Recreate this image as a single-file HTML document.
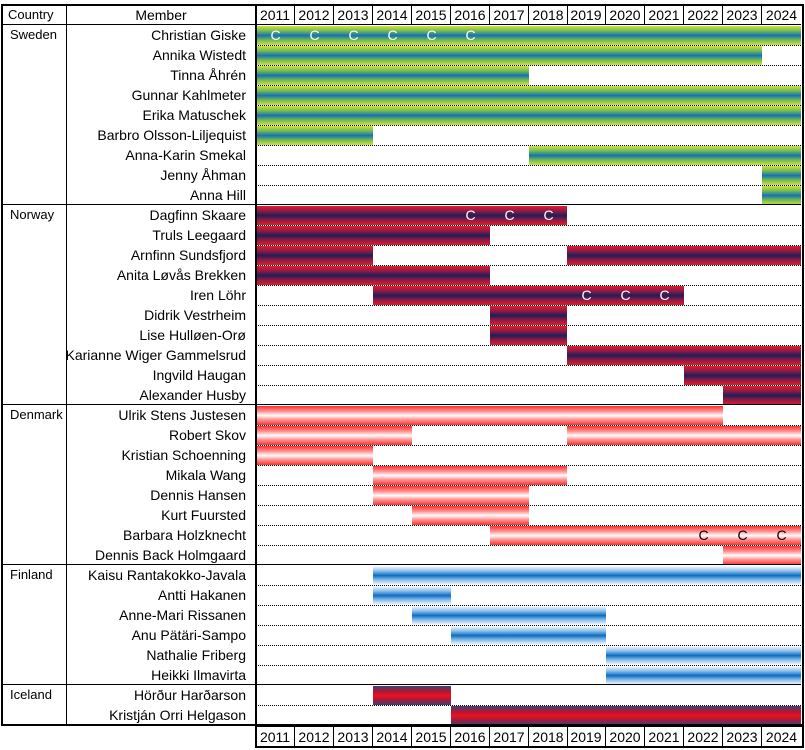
<!DOCTYPE html>
<html><head><meta charset="utf-8"><style>
body{margin:0;width:805px;height:750px;background:#fff;position:relative;overflow:hidden;font-family:"Liberation Sans",sans-serif;font-size:14px;color:#000}
div{position:absolute;box-sizing:border-box}
.b{height:19px}
.sw{background:linear-gradient(#d2e13a,#68b857 28%,#1670b8 50%,#68b857 72%,#d2e13a)}
.no{background:linear-gradient(#e21c2a,#8a1a45 28%,#1c1f5a 50%,#8a1a45 72%,#e21c2a)}
.dk{background:linear-gradient(#ff2e2e,#ff9a9a 30%,#fff 50%,#ff9a9a 70%,#ff2e2e)}
.fi{background:linear-gradient(#fff,#7ab4e4 30%,#0a6cc4 50%,#7ab4e4 70%,#fff)}
.is{background:linear-gradient(#3c4078,#b01830 30%,#ee1020 50%,#b01830 70%,#3c4078)}
.c{color:#fff;width:39px;text-align:center;height:20px;line-height:20px;font-size:14px}
.d{left:256px;width:545px;height:0;border-top:1px dotted #000}
.s{left:2px;width:799px;height:0;border-top:1.5px solid #000}
.m{left:40px;width:206px;text-align:right;height:20px;line-height:20px;white-space:nowrap}
.co{left:10px;height:20px;line-height:20px;font-size:13px}
.y{width:39px;text-align:center;height:20px;line-height:20px;border-right:1px solid #000}
</style></head><body>
<div class="b sw" style="top:26px;left:256px;width:545px"></div>
<div class="b sw" style="top:46px;left:256px;width:506px"></div>
<div class="b sw" style="top:66px;left:256px;width:273px"></div>
<div class="b sw" style="top:86px;left:256px;width:545px"></div>
<div class="b sw" style="top:106px;left:256px;width:545px"></div>
<div class="b sw" style="top:126px;left:256px;width:117px"></div>
<div class="b sw" style="top:146px;left:529px;width:272px"></div>
<div class="b sw" style="top:166px;left:762px;width:39px"></div>
<div class="b sw" style="top:186px;left:762px;width:39px"></div>

<div class="b no" style="top:206px;left:256px;width:311px"></div>
<div class="b no" style="top:226px;left:256px;width:234px"></div>
<div class="b no" style="top:246px;left:256px;width:117px"></div>
<div class="b no" style="top:246px;left:567px;width:234px"></div>
<div class="b no" style="top:266px;left:256px;width:234px"></div>
<div class="b no" style="top:286px;left:373px;width:311px"></div>
<div class="b no" style="top:306px;left:490px;width:77px"></div>
<div class="b no" style="top:326px;left:490px;width:77px"></div>
<div class="b no" style="top:346px;left:567px;width:234px"></div>
<div class="b no" style="top:366px;left:684px;width:117px"></div>
<div class="b no" style="top:386px;left:723px;width:78px"></div>

<div class="b dk" style="top:406px;left:256px;width:467px"></div>
<div class="b dk" style="top:426px;left:256px;width:156px"></div>
<div class="b dk" style="top:426px;left:567px;width:234px"></div>
<div class="b dk" style="top:446px;left:256px;width:117px"></div>
<div class="b dk" style="top:466px;left:373px;width:194px"></div>
<div class="b dk" style="top:486px;left:373px;width:156px"></div>
<div class="b dk" style="top:506px;left:412px;width:117px"></div>
<div class="b dk" style="top:526px;left:490px;width:311px"></div>
<div class="b dk" style="top:546px;left:723px;width:78px"></div>

<div class="b fi" style="top:566px;left:373px;width:428px"></div>
<div class="b fi" style="top:586px;left:373px;width:78px"></div>
<div class="b fi" style="top:606px;left:412px;width:194px"></div>
<div class="b fi" style="top:626px;left:451px;width:155px"></div>
<div class="b fi" style="top:646px;left:606px;width:195px"></div>
<div class="b fi" style="top:666px;left:606px;width:195px"></div>

<div class="b is" style="top:686px;left:373px;width:78px"></div>
<div class="b is" style="top:706px;left:451px;width:350px"></div>

<div class="c" style="top:25px;left:256px">C</div>
<div class="c" style="top:25px;left:295px">C</div>
<div class="c" style="top:25px;left:334px">C</div>
<div class="c" style="top:25px;left:373px">C</div>
<div class="c" style="top:25px;left:412px">C</div>
<div class="c" style="top:25px;left:451px">C</div>
<div class="c" style="top:205px;left:451px">C</div>
<div class="c" style="top:205px;left:490px">C</div>
<div class="c" style="top:205px;left:529px">C</div>
<div class="c" style="top:285px;left:567px">C</div>
<div class="c" style="top:285px;left:606px">C</div>
<div class="c" style="top:285px;left:645px">C</div>
<div class="c" style="top:525px;left:684px;color:#000">C</div>
<div class="c" style="top:525px;left:723px;color:#000">C</div>
<div class="c" style="top:525px;left:762px;color:#000">C</div>

<div class="d" style="top:45px"></div><div class="d" style="top:65px"></div><div class="d" style="top:85px"></div><div class="d" style="top:105px"></div><div class="d" style="top:125px"></div><div class="d" style="top:145px"></div><div class="d" style="top:165px"></div><div class="d" style="top:185px"></div>
<div class="d" style="top:225px"></div><div class="d" style="top:245px"></div><div class="d" style="top:265px"></div><div class="d" style="top:285px"></div><div class="d" style="top:305px"></div><div class="d" style="top:325px"></div><div class="d" style="top:345px"></div><div class="d" style="top:365px"></div><div class="d" style="top:385px"></div>
<div class="d" style="top:425px"></div><div class="d" style="top:445px"></div><div class="d" style="top:465px"></div><div class="d" style="top:485px"></div><div class="d" style="top:505px"></div><div class="d" style="top:525px"></div><div class="d" style="top:545px"></div>
<div class="d" style="top:585px"></div><div class="d" style="top:605px"></div><div class="d" style="top:625px"></div><div class="d" style="top:645px"></div><div class="d" style="top:665px"></div>
<div class="d" style="top:705px"></div>

<div class="s" style="top:24px"></div>
<div class="s" style="top:204px"></div>
<div class="s" style="top:404px"></div>
<div class="s" style="top:564px"></div>
<div class="s" style="top:684px"></div>

<div style="left:1px;top:4px;width:803px;height:722px;border:2px solid #000"></div>
<div style="left:66px;top:5px;width:0;height:720px;border-left:1px solid #000"></div>
<div style="left:255px;top:5px;width:0;height:743px;border-left:2px solid #000"></div>

<div class="co" style="top:5px;left:8px">Country</div>
<div style="left:66px;width:190px;top:5px;height:20px;line-height:20px;text-align:center">Member</div>
<div class="y" style="top:5px;left:256px">2011</div><div class="y" style="top:5px;left:295px">2012</div><div class="y" style="top:5px;left:334px">2013</div><div class="y" style="top:5px;left:373px">2014</div><div class="y" style="top:5px;left:412px">2015</div><div class="y" style="top:5px;left:451px">2016</div><div class="y" style="top:5px;left:490px">2017</div><div class="y" style="top:5px;left:529px">2018</div><div class="y" style="top:5px;left:567px">2019</div><div class="y" style="top:5px;left:606px">2020</div><div class="y" style="top:5px;left:645px">2021</div><div class="y" style="top:5px;left:684px">2022</div><div class="y" style="top:5px;left:723px">2023</div><div class="y" style="top:5px;left:762px;border-right:none">2024</div>

<div style="left:255px;top:725px;width:549px;height:23px;border:2px solid #000"></div>
<div class="y" style="top:727px;left:256px">2011</div><div class="y" style="top:727px;left:295px">2012</div><div class="y" style="top:727px;left:334px">2013</div><div class="y" style="top:727px;left:373px">2014</div><div class="y" style="top:727px;left:412px">2015</div><div class="y" style="top:727px;left:451px">2016</div><div class="y" style="top:727px;left:490px">2017</div><div class="y" style="top:727px;left:529px">2018</div><div class="y" style="top:727px;left:567px">2019</div><div class="y" style="top:727px;left:606px">2020</div><div class="y" style="top:727px;left:645px">2021</div><div class="y" style="top:727px;left:684px">2022</div><div class="y" style="top:727px;left:723px">2023</div><div class="y" style="top:727px;left:762px;border-right:none">2024</div>

<div class="co" style="top:25px">Sweden</div>
<div class="co" style="top:205px">Norway</div>
<div class="co" style="top:405px">Denmark</div>
<div class="co" style="top:565px">Finland</div>
<div class="co" style="top:685px">Iceland</div>

<div class="m" style="top:25px">Christian Giske</div>
<div class="m" style="top:45px">Annika Wistedt</div>
<div class="m" style="top:65px">Tinna Åhrén</div>
<div class="m" style="top:85px">Gunnar Kahlmeter</div>
<div class="m" style="top:105px">Erika Matuschek</div>
<div class="m" style="top:125px">Barbro Olsson-Liljequist</div>
<div class="m" style="top:145px">Anna-Karin Smekal</div>
<div class="m" style="top:165px">Jenny Åhman</div>
<div class="m" style="top:185px">Anna Hill</div>
<div class="m" style="top:205px">Dagfinn Skaare</div>
<div class="m" style="top:225px">Truls Leegaard</div>
<div class="m" style="top:245px">Arnfinn Sundsfjord</div>
<div class="m" style="top:265px">Anita Løvås Brekken</div>
<div class="m" style="top:285px">Iren Löhr</div>
<div class="m" style="top:305px">Didrik Vestrheim</div>
<div class="m" style="top:325px">Lise Hulløen-Orø</div>
<div class="m" style="top:345px">Karianne Wiger Gammelsrud</div>
<div class="m" style="top:365px">Ingvild Haugan</div>
<div class="m" style="top:385px">Alexander Husby</div>
<div class="m" style="top:405px">Ulrik Stens Justesen</div>
<div class="m" style="top:425px">Robert Skov</div>
<div class="m" style="top:445px">Kristian Schoenning</div>
<div class="m" style="top:465px">Mikala Wang</div>
<div class="m" style="top:485px">Dennis Hansen</div>
<div class="m" style="top:505px">Kurt Fuursted</div>
<div class="m" style="top:525px">Barbara Holzknecht</div>
<div class="m" style="top:545px">Dennis Back Holmgaard</div>
<div class="m" style="top:565px">Kaisu Rantakokko-Javala</div>
<div class="m" style="top:585px">Antti Hakanen</div>
<div class="m" style="top:605px">Anne-Mari Rissanen</div>
<div class="m" style="top:625px">Anu Pätäri-Sampo</div>
<div class="m" style="top:645px">Nathalie Friberg</div>
<div class="m" style="top:665px">Heikki Ilmavirta</div>
<div class="m" style="top:685px">Hörður Harðarson</div>
<div class="m" style="top:705px">Kristján Orri Helgason</div>
</body></html>
